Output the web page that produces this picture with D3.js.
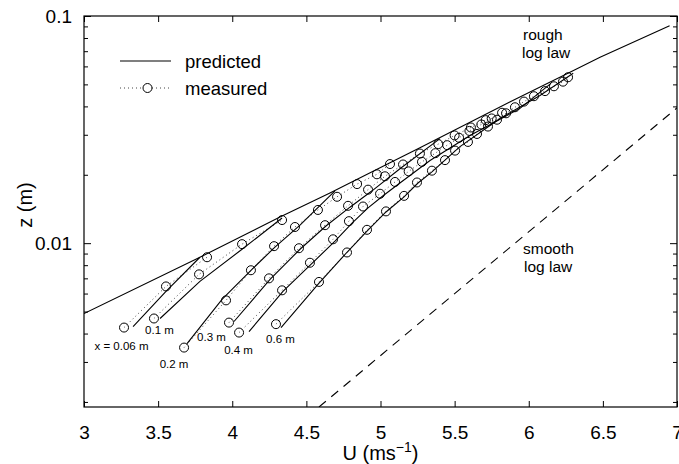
<!DOCTYPE html>
<html><head><meta charset="utf-8">
<script src="https://cdn.jsdelivr.net/npm/d3@7"></script>
<style>body{margin:0;background:#fff}svg text{font-family:"Liberation Sans",Arial,sans-serif;fill:#000}</style>
</head><body><svg id="c" width="679" height="464"></svg>
<script>
// ---- data ----
const uTicks = [3, 3.5, 4, 4.5, 5, 5.5, 6, 6.5, 7];
const zMajorTicks = [0.01, 0.1];
const zMajorLabels = ["0.01", "0.1"];
const zMinorTicks = [0.002,0.003,0.004,0.005,0.006,0.007,0.008,0.009,0.02,0.03,0.04,0.05,0.06,0.07,0.08,0.09];
const uDomain = [3, 7];
const zDomain = [0.0019, 0.1];

// rough log law (solid envelope)
const roughU = [3.0, 3.782, 4.322, 4.659, 5.064, 5.266, 5.786, 6.278, 6.481, 6.95];
const roughZ = [0.0049, 0.00867, 0.01303, 0.01664, 0.0226, 0.0263, 0.0392, 0.0565, 0.0659, 0.0905];
// smooth log law (dashed)
const smoothU = [4.585, 7.0];
const smoothZ = [0.0019, 0.0394];

const profileNames = ["x = 0.06 m", "0.1 m", "0.2 m", "0.3 m", "0.4 m", "0.6 m"];

// measured profiles
const m006U = [3.270, 3.553, 3.830];
const m006Z = [0.00425, 0.00645, 0.00867];
const m01U = [3.472, 3.776, 4.066, 4.336];
const m01Z = [0.00466, 0.00729, 0.0099, 0.01264];
const m02U = [3.675, 3.958, 4.126, 4.282, 4.423, 4.578, 4.707, 4.842, 4.976, 5.064];
const m02Z = [0.00347, 0.0056, 0.0076, 0.0097, 0.01178, 0.0140, 0.0160, 0.0182, 0.0201, 0.0223];
const m03U = [3.978, 4.248, 4.450, 4.626, 4.781, 4.916, 5.030, 5.152, 5.266, 5.39, 5.50, 5.61, 5.71];
const m03Z = [0.00447, 0.0070, 0.0095, 0.0120, 0.0146, 0.0172, 0.0197, 0.0222, 0.0248, 0.0273, 0.0298, 0.0323, 0.0348];
const m04U = [4.046, 4.336, 4.524, 4.680, 4.787, 4.882, 4.997, 5.098, 5.19, 5.28, 5.37, 5.45, 5.53, 5.60, 5.68, 5.75, 5.82];
const m04Z = [0.00404, 0.0062, 0.0082, 0.0104, 0.0125, 0.0145, 0.0165, 0.0186, 0.0207, 0.0228, 0.0249, 0.027, 0.0291, 0.0312, 0.0333, 0.0354, 0.0375];
const m06U = [4.295, 4.585, 4.774, 4.909, 5.037, 5.159, 5.246, 5.347, 5.435, 5.503, 5.590, 5.651, 5.725, 5.786, 5.847, 5.907, 5.968, 6.035, 6.110, 6.170, 6.231, 6.265];
const m06Z = [0.0044, 0.00675, 0.0091, 0.01145, 0.0138, 0.01615, 0.0185, 0.02085, 0.0232, 0.02555, 0.0279, 0.03025, 0.0326, 0.03495, 0.0373, 0.03965, 0.042, 0.04435, 0.0467, 0.04905, 0.0514, 0.05375];

// predicted profiles
const p006U = [3.331, 3.553, 3.782];
const p006Z = [0.00429, 0.00613, 0.00867];
const p01U = [3.513, 3.782, 4.066, 4.336];
const p01Z = [0.00466, 0.00679, 0.0094, 0.0129];
const p02U = [3.695, 3.931, 4.133, 4.288, 4.457, 4.693];
const p02Z = [0.00361, 0.00565, 0.00767, 0.0096, 0.0120, 0.0170];
const p03U = [4.012, 4.255, 4.457, 4.632, 4.794, 4.943, 5.131, 5.401];
const p03Z = [0.00452, 0.00693, 0.0094, 0.0119, 0.0144, 0.0170, 0.02125, 0.02885];
const p04U = [4.113, 4.342, 4.531, 4.693, 4.808, 4.916, 5.024, 5.131, 5.334, 5.604, 5.941, 6.15];
const p04Z = [0.00408, 0.00613, 0.00807, 0.0102, 0.01226, 0.0143, 0.0163, 0.0184, 0.0231, 0.0298, 0.0392, 0.0505];
const p06U = [4.329, 4.578, 4.774, 4.909, 5.037, 5.159, 5.253, 5.347, 5.536, 5.806, 6.076, 6.30];
const p06Z = [0.00425, 0.00658, 0.00912, 0.0113, 0.01372, 0.01598, 0.0184, 0.0206, 0.0266, 0.0354, 0.0447, 0.0560];

const measured = [[m006U,m006Z],[m01U,m01Z],[m02U,m02Z],[m03U,m03Z],[m04U,m04Z],[m06U,m06Z]];
const predicted = [[p006U,p006Z],[p01U,p01Z],[p02U,p02Z],[p03U,p03Z],[p04U,p04Z],[p06U,p06Z]];

// ---- drawing ----
const L = 84, R = 677, T = 16, B = 407;
const svg = d3.select("#c");
const x = d3.scaleLinear().domain(uDomain).range([L, R]);
const y = d3.scaleLog().domain(zDomain).range([B, T]);
const zip = (us, zs) => us.map((u, i) => [u, zs[i]]);
const line = d3.line().x(d => x(d[0])).y(d => y(d[1]));

svg.append("defs").append("clipPath").attr("id", "clip")
  .append("rect").attr("x", L).attr("y", T).attr("width", R - L).attr("height", B - T);
const plot = svg.append("g").attr("clip-path", "url(#clip)");

plot.append("path").datum(zip(roughU, roughZ)).attr("d", line)
  .attr("fill", "none").attr("stroke", "#000").attr("stroke-width", 1.1);
plot.append("path").datum(zip(smoothU, smoothZ)).attr("d", line)
  .attr("fill", "none").attr("stroke", "#000").attr("stroke-width", 1.1).attr("stroke-dasharray", "9,7");

measured.forEach(([us, zs]) => {
  plot.append("path").datum(zip(us, zs)).attr("d", line)
    .attr("fill", "none").attr("stroke", "#444").attr("stroke-width", 1).attr("stroke-dasharray", "1,3");
});
predicted.forEach(([us, zs]) => {
  plot.append("path").datum(zip(us, zs)).attr("d", line)
    .attr("fill", "none").attr("stroke", "#000").attr("stroke-width", 1.1);
});
measured.forEach(([us, zs]) => {
  plot.selectAll(null).data(zip(us, zs)).enter().append("circle")
    .attr("cx", d => x(d[0])).attr("cy", d => y(d[1])).attr("r", 4.5)
    .attr("fill", "none").attr("stroke", "#000").attr("stroke-width", 1);
});

// profile labels (offset from lowest measured circle)
const labelDx = [-2.5, 5.5, -10, -17.5, -0.5, 4.5];
const labelDy = [22.5, 15.5, 20, 18.5, 21.5, 19];
measured.forEach(([us, zs], i) => {
  svg.append("text").attr("x", x(us[0]) + labelDx[i]).attr("y", y(zs[0]) + labelDy[i])
    .attr("text-anchor", "middle").attr("font-size", 11.5).text(profileNames[i]);
});

svg.append("text").attr("x", 523).attr("y", 40).attr("font-size", 15.5).text("rough");
svg.append("text").attr("x", 522).attr("y", 58).attr("font-size", 15.5).text("log law");
svg.append("text").attr("x", 523).attr("y", 254).attr("font-size", 15.5).text("smooth");
svg.append("text").attr("x", 524).attr("y", 272).attr("font-size", 15.5).text("log law");

// axes
const ax = svg.append("g");
const styleAxis = g => { g.select(".domain").remove(); g.selectAll("line").attr("stroke", "#000"); g.selectAll("text").attr("font-size", 19).attr("font-family", "Liberation Sans, Arial, sans-serif"); };
ax.append("g").attr("transform", `translate(0,${B})`)
  .call(d3.axisBottom(x).tickValues(uTicks).tickSizeInner(-6).tickSizeOuter(0).tickPadding(19).tickFormat(d3.format("")))
  .call(styleAxis);
ax.append("g").attr("transform", `translate(0,${T})`)
  .call(d3.axisTop(x).tickValues(uTicks).tickSizeInner(-6).tickSizeOuter(0).tickFormat(""))
  .call(styleAxis);
ax.append("g").attr("transform", `translate(${L},0)`)
  .call(d3.axisLeft(y).tickValues(zMajorTicks).tickSizeInner(-7).tickSizeOuter(0).tickPadding(12).tickFormat((d, i) => zMajorLabels[i]))
  .call(styleAxis);
ax.append("g").attr("transform", `translate(${L},0)`)
  .call(d3.axisLeft(y).tickValues(zMinorTicks).tickSizeInner(-4).tickSizeOuter(0).tickFormat(""))
  .call(styleAxis);
ax.append("g").attr("transform", `translate(${R},0)`)
  .call(d3.axisRight(y).tickValues(zMajorTicks).tickSizeInner(-7).tickSizeOuter(0).tickFormat(""))
  .call(styleAxis);
ax.append("g").attr("transform", `translate(${R},0)`)
  .call(d3.axisRight(y).tickValues(zMinorTicks).tickSizeInner(-4).tickSizeOuter(0).tickFormat(""))
  .call(styleAxis);
svg.append("rect").attr("x", L).attr("y", T).attr("width", R - L).attr("height", B - T)
  .attr("fill", "none").attr("stroke", "#000").attr("stroke-width", 1.2);

// axis titles
const xt = svg.append("text").attr("x", (L + R) / 2).attr("y", 460).attr("text-anchor", "middle").attr("font-size", 20);
xt.append("tspan").text("U (ms");
xt.append("tspan").attr("dy", -8).attr("font-size", 14).text("\u22121");
xt.append("tspan").attr("dy", 8).text(")");
svg.append("text").attr("transform", `translate(32,205) rotate(-90)`).attr("text-anchor", "middle")
  .attr("font-size", 20).text("z (m)");

// legend
const lg = svg.append("g");
lg.append("line").attr("x1", 120).attr("x2", 171).attr("y1", 61).attr("y2", 61).attr("stroke", "#000").attr("stroke-width", 1.1);
lg.append("text").attr("x", 185).attr("y", 67.5).attr("font-size", 18.5).text("predicted");
lg.append("line").attr("x1", 120).attr("x2", 171).attr("y1", 88).attr("y2", 88).attr("stroke", "#444").attr("stroke-dasharray", "1,3");
lg.append("circle").attr("cx", 147.5).attr("cy", 88).attr("r", 4.5).attr("fill", "#fff").attr("stroke", "#000");
lg.append("text").attr("x", 185).attr("y", 94.5).attr("font-size", 18.5).text("measured");
</script></body></html>
